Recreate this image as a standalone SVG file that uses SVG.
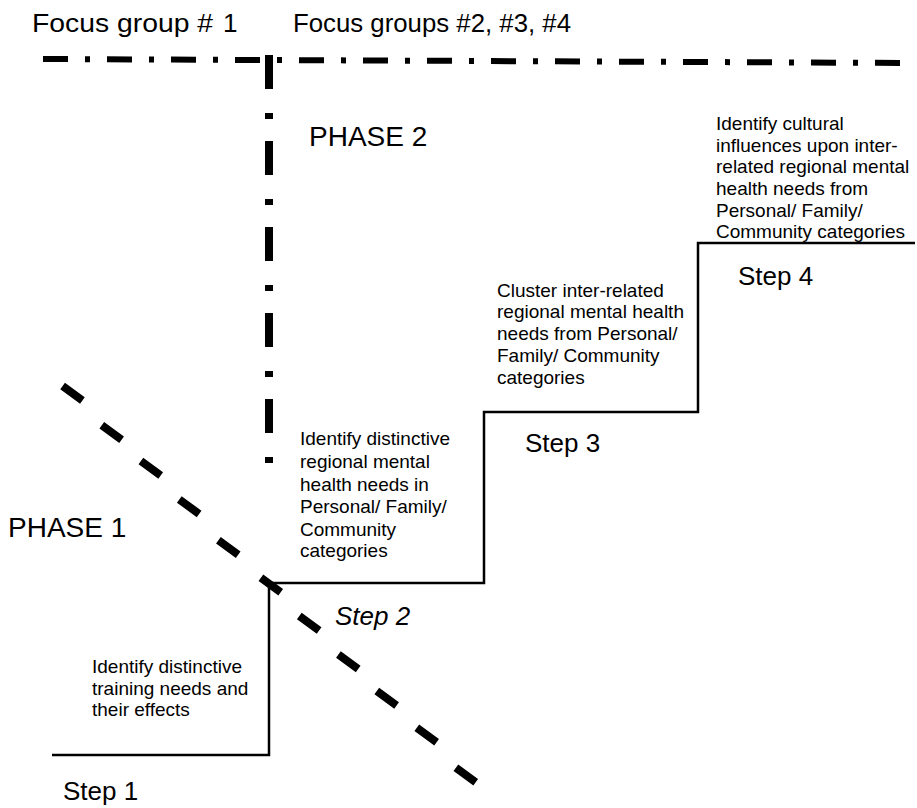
<svg xmlns="http://www.w3.org/2000/svg" width="917" height="808" viewBox="0 0 917 808">
<style>
  text { font-family: "Liberation Sans", Arial, sans-serif; fill: #000; }
  .title { font-size: 26px; }
  .phase { font-size: 28px; }
  .step { font-size: 26px; }
  .desc { font-size: 19px; }
  .stair { fill: none; stroke: #000; stroke-width: 2.5; }
  .hdash { fill: none; stroke: #000; stroke-width: 6; stroke-dasharray: 25 17 5 17; }
  .vdash { fill: none; stroke: #000; stroke-width: 8; stroke-dasharray: 34 24 6 22; }
  .diag { fill: none; stroke: #000; stroke-width: 8; }
</style>
<rect width="917" height="808" fill="#fff"/>

<g id="headers">
  <text class="title" x="32" y="32" textLength="181" lengthAdjust="spacingAndGlyphs">Focus group #</text>
  <text class="title" x="223" y="32"> 1</text>
  <text class="title" x="293" y="32" textLength="278" lengthAdjust="spacingAndGlyphs">Focus groups #2, #3, #4</text>
</g>

<g id="dividers">
  <path class="hdash" d="M43,59 L917,63"/>
  <path class="vdash" d="M269,55 L269,464"/>
  <path class="diag" d="M62.6,386.1 L82.4,400.5 M101.8,425.3 L121.6,439.7 M140.9,461.1 L160.7,475.5 M179.3,499.5 L199.1,513.9 M218.4,540.3 L238.2,554.7 M260.9,577.8 L280.7,592.2 M299.3,616.1 L319.1,630.5 M338.4,654.5 L358.2,668.9 M376.8,691.1 L396.6,705.5 M416.8,727.8 L436.6,742.2 M455.9,767.8 L475.7,782.2"/>
</g>

<g id="connectors">
  <path class="stair" d="M52,755 L269,755 L269,583 L484,583 L484,412 L698,412 L698,243 L915,243"/>
</g>

<g id="phase1">
  <text class="phase" x="8" y="537">PHASE 1</text>
</g>
<g id="phase2">
  <text class="phase" x="309" y="146">PHASE 2</text>
</g>

<g id="step1">
  <text class="desc" x="92" y="673">Identify distinctive</text>
  <text class="desc" x="92" y="695">training needs and</text>
  <text class="desc" x="92" y="716">their effects</text>
  <text class="step" x="63" y="800">Step 1</text>
</g>

<g id="step2">
  <text class="desc" x="300" y="445">Identify distinctive</text>
  <text class="desc" x="300" y="468">regional mental</text>
  <text class="desc" x="300" y="491">health needs in</text>
  <text class="desc" x="300" y="513">Personal/ Family/</text>
  <text class="desc" x="300" y="536">Community</text>
  <text class="desc" x="300" y="557">categories</text>
  <text class="step" x="335" y="625" font-style="italic">Step 2</text>
</g>

<g id="step3">
  <text class="desc" x="497" y="297">Cluster inter-related</text>
  <text class="desc" x="497" y="318">regional mental health</text>
  <text class="desc" x="497" y="340">needs from Personal/</text>
  <text class="desc" x="497" y="362">Family/ Community</text>
  <text class="desc" x="497" y="384">categories</text>
  <text class="step" x="525" y="452">Step 3</text>
</g>

<g id="step4">
  <text class="desc" x="716" y="130">Identify cultural</text>
  <text class="desc" x="716" y="152">influences upon inter-</text>
  <text class="desc" x="716" y="173">related regional mental</text>
  <text class="desc" x="716" y="195">health needs from</text>
  <text class="desc" x="716" y="217">Personal/ Family/</text>
  <text class="desc" x="716" y="238">Community categories</text>
  <text class="step" x="738" y="285" font-size="27">Step 4</text>
</g>
</svg>
